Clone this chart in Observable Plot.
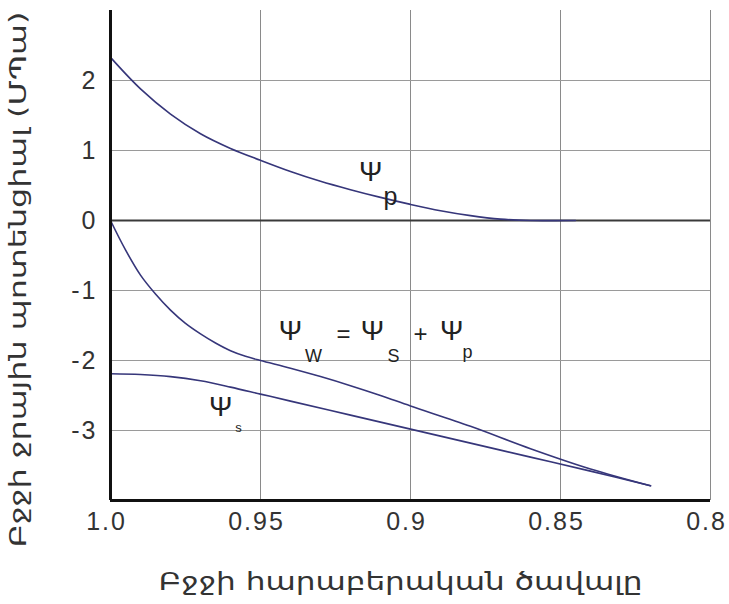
<!DOCTYPE html>
<html><head><meta charset="utf-8">
<script src="https://cdn.jsdelivr.net/npm/d3@7"></script>
<script src="https://cdn.jsdelivr.net/npm/@observablehq/plot@0.6"></script>
<style>
html,body{margin:0;padding:0;background:#fff;}
#chart svg{display:block}
#chart g[aria-label="x-axis tick label"] text,
#chart g[aria-label="y-axis tick label"] text{letter-spacing:2px}
</style></head><body><div id="chart"></div>
<script>
// Axis ticks
const xTicks = [1.0, 0.95, 0.9, 0.85, 0.8];
const xTickLabels = ["1.0", "0.95", "0.9", "0.85", "0.8"];
const yTicks = [-3, -2, -1, 0, 1, 2];
const yTickLabels = ["-3", "-2", "-1", "0", "1", "2"];
const xTitle = "Բջջի հարաբերական ծավալը";
const yTitle = "Բջջի ջրային պոտենցիալ (ՄՊա)";

// Ψp (turgor pressure)
const psiPx = [1.0, 0.99, 0.98, 0.97, 0.96, 0.95, 0.94, 0.93, 0.92, 0.91, 0.90, 0.89, 0.88, 0.87, 0.86, 0.845];
const psiPy = [2.33, 1.88, 1.52, 1.24, 1.03, 0.86, 0.70, 0.56, 0.44, 0.33, 0.23, 0.14, 0.07, 0.02, 0.0, 0.0];
// Ψw (water potential)
const psiWx = [1.0, 0.995, 0.99, 0.985, 0.98, 0.975, 0.97, 0.965, 0.96, 0.955, 0.95, 0.94, 0.93, 0.92, 0.91, 0.90, 0.88, 0.86, 0.84, 0.82];
const psiWy = [0, -0.42, -0.78, -1.05, -1.28, -1.47, -1.62, -1.75, -1.86, -1.94, -2.0, -2.11, -2.23, -2.36, -2.5, -2.65, -2.94, -3.26, -3.55, -3.79];
// Ψs (osmotic potential)
const psiSx = [1.0, 0.99, 0.98, 0.97, 0.96, 0.95, 0.94, 0.92, 0.90, 0.88, 0.86, 0.84, 0.82];
const psiSy = [-2.19, -2.2, -2.23, -2.29, -2.38, -2.48, -2.58, -2.78, -2.98, -3.18, -3.38, -3.58, -3.79];

// Curve annotations (anchored in data units)
const noteText = ["Ψ", "p", "Ψ", "W", "=", "Ψ", "S", "+", "Ψ", "p", "Ψ", "s"];
const noteRole = ["main", "sub", "main", "small", "op", "main", "small", "op", "main", "small", "main", "tiny"];
const noteX = [0.9133, 0.9067, 0.94, 0.9323, 0.9223, 0.9127, 0.9057, 0.8967, 0.8863, 0.881, 0.9633, 0.9573];
const noteY = [0.69, 0.33, -1.576, -1.934, -1.633, -1.576, -1.934, -1.633, -1.576, -1.877, -2.665, -2.966];

const data = [
  ...psiPx.map((x, i) => ({s: "p", x, y: psiPy[i]})),
  ...psiWx.map((x, i) => ({s: "w", x, y: psiWy[i]})),
  ...psiSx.map((x, i) => ({s: "s", x, y: psiSy[i]}))
];
const notes = noteText.map((t, i) => ({t, role: noteRole[i], x: noteX[i], y: noteY[i]}));
const roleSize = {main: 28, sub: 25, small: 18, op: 24, tiny: 13};

const chart = Plot.plot({
  width: 729, height: 604,
  marginLeft: 110, marginRight: 19, marginTop: 10, marginBottom: 104,
  x: {domain: [1.0, 0.8]},
  y: {domain: [-4, 3]},
  style: {fontFamily: "'Liberation Sans', Arial, sans-serif", fontSize: "25px", color: "#333", background: "#fff"},
  marks: [
    Plot.gridX(xTicks.slice(1), {stroke: "#8a8a8a", strokeOpacity: 1}),
    Plot.gridY(yTicks.filter(d => d !== 0), {stroke: "#9a9a9a", strokeOpacity: 1}),
    Plot.ruleY([0], {stroke: "#3a3a3a", strokeWidth: 2}),
    Plot.line(data, {x: "x", y: "y", z: "s", stroke: "#36367a", strokeWidth: 1.6, curve: "catmull-rom"}),
    Plot.ruleX([1.0], {stroke: "#111", strokeWidth: 3}),
    Plot.ruleY([-4], {stroke: "#111", strokeWidth: 3}),
    Plot.axisX(xTicks, {tickSize: 0, tickPadding: 12, dx: -4, tickFormat: d => xTickLabels[xTicks.indexOf(d)], label: null}),
    Plot.axisY(yTicks, {tickSize: 0, tickPadding: 13, tickFormat: d => yTickLabels[yTicks.indexOf(d)], label: null}),
    Plot.text(notes, {x: "x", y: "y", text: "t", fontSize: d => roleSize[d.role], textAnchor: "middle", lineAnchor: "middle", fill: "#222", fontFamily: "'Liberation Sans', Arial, sans-serif"}),
    Plot.text([xTitle], {frameAnchor: "bottom", dy: 82, dx: -10, textAnchor: "middle", lineAnchor: "middle", fontSize: 24, fill: "#333", fontFamily: "'DejaVu Sans', sans-serif"}),
    Plot.text([yTitle], {frameAnchor: "left", rotate: -90, dx: -92, dy: 24, textAnchor: "middle", lineAnchor: "middle", fontSize: 23, fill: "#333", fontFamily: "'DejaVu Sans', sans-serif"})
  ]
});
document.getElementById("chart").appendChild(chart);
// widen the title glyphs like the reference's broad Armenian face
d3.select(chart).selectAll("text")
  .filter(function () { return this.textContent === xTitle; })
  .attr("textLength", 484).attr("lengthAdjust", "spacingAndGlyphs");
d3.select(chart).selectAll("text")
  .filter(function () { return this.textContent === yTitle; })
  .attr("textLength", 536).attr("lengthAdjust", "spacingAndGlyphs");
</script>
</body></html>
